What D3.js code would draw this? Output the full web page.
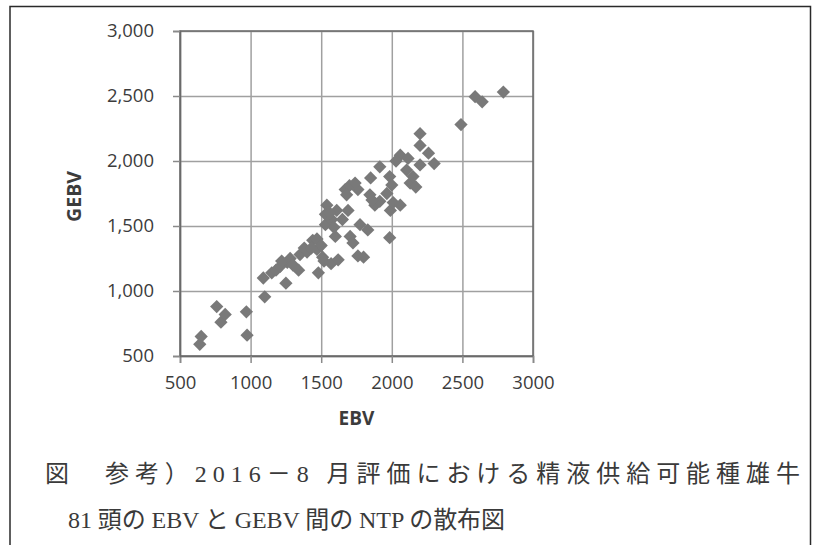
<!DOCTYPE html>
<html>
<head>
<meta charset="utf-8">
<script src="https://cdn.jsdelivr.net/npm/d3@7"></script>
<style>
  body { margin: 0; background: #fff; }
</style>
</head>
<body>
<div id="container"></div>
<script>
/* CONSTANTS AND GLOBALS */
const width = 814,
  height = 545;
const plot = { left: 180, right: 533, top: 31, bottom: 356 };

/* DATA */
const ebv = [640, 650, 760, 790, 820, 970, 975, 1100, 1090, 1150,
  1180, 1210, 1250, 1260, 1280, 1300, 1340, 1350, 1400, 1440,
  1470, 1480, 1470, 1500, 1510, 1520, 1530, 1540, 1530, 1570,
  1575, 1600, 1610, 1620, 1650, 1670, 1690, 1700, 1705, 1725,
  1760, 1775, 1760, 1800, 1830, 1845, 1850, 1880, 1915, 1915,
  1965, 1985, 1990, 1985, 2000, 2010, 2060, 2060, 2105, 2115,
  2130, 2150, 2170, 2200, 2200, 2200, 2260, 2300, 2490, 2590,
  2640, 2790, 1220, 1380, 1430, 1560, 1590, 1680, 1740, 1860, 2030];
const gebv = [590, 650, 880, 760, 820, 840, 660, 955, 1100, 1140,
  1160, 1190, 1060, 1220, 1250, 1200, 1160, 1280, 1300, 1390,
  1400, 1140, 1320, 1350, 1260, 1230, 1510, 1660, 1590, 1210,
  1550, 1420, 1620, 1240, 1550, 1780, 1620, 1810, 1420, 1370,
  1780, 1510, 1270, 1260, 1470, 1740, 1870, 1660, 1690, 1955,
  1750, 1880, 1620, 1410, 1815, 1680, 1660, 2045, 1930, 2020,
  1830, 1880, 1800, 2210, 2120, 1970, 2060, 1980, 2280, 2495,
  2455, 2530, 1230, 1330, 1330, 1600, 1490, 1740, 1830, 1700, 2000];
const xTicks = [500, 1000, 1500, 2000, 2500, 3000];
const yTicks = [500, 1000, 1500, 2000, 2500, 3000];
const xTitle = 'EBV';
const yTitle = 'GEBV';
const captionLines = [
  '図　参考）2016－8 月評価における精液供給可能種雄牛',
  '81 頭の EBV と GEBV 間の NTP の散布図'
];

const points = ebv.map((x, i) => ({ x: x, y: gebv[i] }));

// SCALES
const xScale = d3.scaleLinear()
  .domain([500, 3000])
  .range([plot.left, plot.right]);

const yScale = d3.scaleLinear()
  .domain([500, 3000])
  .range([plot.bottom, plot.top]);

// CREATE SVG ELEMENT
const svg = d3.select('#container')
  .append('svg')
  .attr('width', width)
  .attr('height', height)
  .style('display', 'block');

// outer frame
svg.append('rect')
  .attr('x', 10)
  .attr('y', 6.5)
  .attr('width', 800.5)
  .attr('height', 560)
  .attr('fill', 'none')
  .attr('stroke', '#2a2a2a')
  .attr('stroke-width', 1.5);

// GRIDLINES
svg.append('g')
  .attr('transform', `translate(0, ${plot.bottom})`)
  .call(d3.axisBottom(xScale).tickValues(xTicks).tickSize(-(plot.bottom - plot.top)).tickFormat(''))
  .call(g => g.select('.domain').remove())
  .selectAll('line')
  .attr('stroke', '#a0a0a0')
  .attr('stroke-width', 1.5);

svg.append('g')
  .attr('transform', `translate(${plot.left}, 0)`)
  .call(d3.axisLeft(yScale).tickValues(yTicks).tickSize(-(plot.right - plot.left)).tickFormat(''))
  .call(g => g.select('.domain').remove())
  .selectAll('line')
  .attr('stroke', '#a0a0a0')
  .attr('stroke-width', 1.5);

// plot border
svg.append('rect')
  .attr('x', plot.left)
  .attr('y', plot.top)
  .attr('width', plot.right - plot.left)
  .attr('height', plot.bottom - plot.top)
  .attr('fill', 'none')
  .attr('stroke', '#6a6a6a')
  .attr('stroke-width', 1.5);

// BUILD AND CALL AXES
const xAxis = d3.axisBottom(xScale)
  .tickValues(xTicks)
  .tickFormat(d3.format('d'))
  .tickSize(7)
  .tickPadding(13);

svg.append('g')
  .attr('transform', `translate(0, ${plot.bottom})`)
  .call(xAxis)
  .call(g => g.select('.domain').attr('stroke', '#6a6a6a').attr('stroke-width', 1.5))
  .call(g => g.selectAll('line').attr('stroke', '#8a8a8a').attr('stroke-width', 1.5))
  .selectAll('text')
  .attr('fill', '#3c3c3c')
  .style('font', '18.5px "Open Sans", sans-serif');

const yAxis = d3.axisLeft(yScale)
  .tickValues(yTicks)
  .tickFormat(d3.format(','))
  .tickSize(7)
  .tickPadding(19);

svg.append('g')
  .attr('transform', `translate(${plot.left}, 0)`)
  .call(yAxis)
  .call(g => g.select('.domain').attr('stroke', '#6a6a6a').attr('stroke-width', 1.5))
  .call(g => g.selectAll('line').attr('stroke', '#8a8a8a').attr('stroke-width', 1.5))
  .selectAll('text')
  .attr('fill', '#3c3c3c')
  .style('font', '18.5px "Open Sans", sans-serif');

// AXIS TITLES
svg.append('text')
  .attr('x', (plot.left + plot.right) / 2)
  .attr('y', 418)
  .attr('dy', '0.35em')
  .attr('text-anchor', 'middle')
  .attr('fill', '#3c3c3c')
  .style('font', 'bold 19px "Open Sans", sans-serif')
  .text(xTitle);

svg.append('text')
  .attr('transform', `translate(74, ${(plot.top + plot.bottom) / 2 + 3}) rotate(-90)`)
  .attr('dy', '0.35em')
  .attr('text-anchor', 'middle')
  .attr('fill', '#3c3c3c')
  .style('font', 'bold 19.5px "Open Sans", sans-serif')
  .text(yTitle);

// DRAW POINTS
const diamond = d3.symbol().type(d3.symbolSquare).size(88);

svg.append('g')
  .selectAll('path')
  .data(points)
  .join('path')
  .attr('d', diamond)
  .attr('transform', d => `translate(${xScale(d.x)}, ${yScale(d.y)}) rotate(45)`)
  .attr('fill', '#797979');

// CAPTION
const captionPos = [
  { x: 45, y: 482, len: 755 },
  { x: 68, y: 528, len: 437 }
];

svg.append('g')
  .selectAll('text')
  .data(captionLines)
  .join('text')
  .attr('x', (d, i) => captionPos[i].x)
  .attr('y', (d, i) => captionPos[i].y)
  .attr('textLength', (d, i) => captionPos[i].len)
  .attr('lengthAdjust', 'spacing')
  .attr('fill', '#3a3a3a')
  .style('font', '24px "Liberation Serif", "Noto Sans CJK JP", serif')
  .text(d => d);
</script>
</body>
</html>
